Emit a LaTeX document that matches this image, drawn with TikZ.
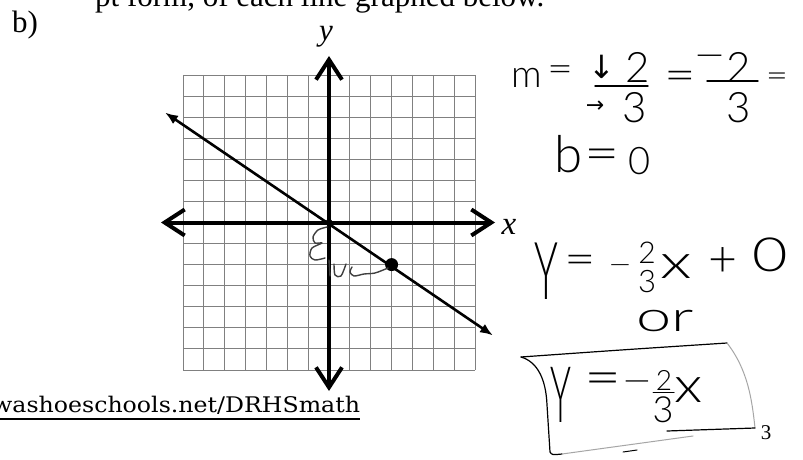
\documentclass[tikz,border=0pt]{standalone}
\usepackage{fontspec}
\setmainfont{Liberation Serif}
\IfFontExistsTF{Lato Light}{\newfontfamily\hwfont{Lato Light}}{\newfontfamily\hwfont{Liberation Sans}}
\newfontfamily\symfont{DejaVu Sans}
\newfontfamily\urlfont{DejaVu Serif}
\usetikzlibrary{arrows.meta}
\newcommand\fsz[1]{\fontsize{#1}{#1}\selectfont}
\newcommand\heq[1]{\fsz{#1}\scalebox{1.6}[1.3]{=}}
\newcommand\hmin[1]{\fsz{#1}\scalebox{1.5}[1]{−}}
\tikzset{
  gridline/.style={draw=black!50, line width=0.9pt},
  axisline/.style={line width=4pt, {Straight Barb[length=20pt,width=26pt]}-{Straight Barb[length=20pt,width=26pt]}},
  graphline/.style={line width=2.6pt, {Latex[length=13pt,width=10pt]}-{Latex[length=13pt,width=10pt]}},
  hw/.style={inner sep=0pt, font=\hwfont},
  hwstroke/.style={line width=1.4pt, line cap=round, line join=round},
  faint/.style={line width=1pt, draw=gray!70, line cap=round, line join=round},
  lbl/.style={inner sep=0pt}
}
\begin{document}
\begin{tikzpicture}[x=1pt,y=-1pt]
\useasboundingbox (0,0) rectangle (803,460);
\clip (0,0) rectangle (803,460);
\fill[white] (0,0) rectangle (803,460);

% cut-off heading and label
\node[lbl, anchor=base west] (head) at (95,7) {\fsz{31}pt form, of each line graphed below.};
\node[lbl, anchor=base west] (blab) at (12,33) {\fsz{31}b)};

% grid
\foreach \i in {0,...,14} {
  \draw[gridline] ({183+\i*20.857},75) -- ({183+\i*20.857},370);
  \draw[gridline] (183,{75+\i*21.07}) -- (475,{75+\i*21.07});
}

% axes
\coordinate (xl) at (161,222.5);
\coordinate (xr) at (495,222.5);
\coordinate (yt) at (329,56);
\coordinate (yb) at (329,391);
\draw[axisline] (xl) -- (xr);
\draw[axisline] (yt) -- (yb);
\node[lbl] (ylab) at (326,37) {\fsz{31}\itshape y};
\node[lbl] (xlab) at (509,227) {\fsz{33}\itshape x};

% graphed line
\coordinate (la) at (165,112.5);
\coordinate (lb) at (493,335.5);
\draw[graphline] (la) -- (lb);
\node[circle, fill, inner sep=0pt, minimum size=7pt] (O) at (329,222.5) {};
\node[circle, fill, inner sep=0pt, minimum size=13pt] (P) at (391.6,264.6) {};

% rise / run marks
\draw[hwstroke, draw=gray!50!black] plot[smooth] coordinates {(327,227) (318,230) (313,237) (315,243) (322,243) (312,248) (310,256) (315,260) (325,258)};
\draw[hwstroke, draw=gray!50!black] plot[smooth] coordinates {(329,260) (330,276)};
\draw[hwstroke, draw=gray!50!black] plot[smooth] coordinates {(334,264) (335,275) (341,276) (346,264)};
\draw[hwstroke, draw=gray!50!black] plot[smooth] coordinates {(352,267) (350,272) (354,276) (364,274) (375,273) (388,268)};

% slope work
\node[hw] (m) at (527,78) {\fsz{38}m};
\node[hw] (e1) at (560,74) {\heq{28}};
\node[hw] (dn) at (602,67) {\symfont\fsz{32}↓};
\node[hw] (n1) at (638,67) {\fsz{42}2};
\coordinate (f1a) at (595,86);
\coordinate (f1b) at (648,86);
\draw[hwstroke] (f1a) -- (f1b);
\node[hw] (rt) at (595,107) {\symfont\fsz{22}→};
\node[hw] (d1) at (635,108) {\fsz{42}3};
\node[hw] (e2) at (680,81) {\heq{34}};
\node[hw] (mi1) at (710,62) {\hmin{38}};
\node[hw] (n2) at (739,67) {\fsz{42}2};
\coordinate (f2a) at (707,81);
\coordinate (f2b) at (758,81);
\draw[hwstroke] (f2a) -- (f2b);
\node[hw] (d2) at (739,108) {\fsz{42}3};
\node[hw] (e3) at (777,80) {\heq{24}};

\node[hw] (b) at (569,154) {\fsz{51}b};
\node[hw] (e4) at (602,160) {\heq{38}};
\node[hw] (z1) at (640,161) {\fsz{38}0};

% equation
\node[hw] (Y1) at (546,271) {\fsz{80}\scalebox{0.5}[1]{Y}};
\node[hw] (e5) at (580,265) {\heq{34}};
\node[hw] (mi2) at (620,270) {\hmin{28}};
\node[hw] (n3) at (647,253) {\fsz{30}2};
\node[hw] (d3) at (647,282) {\fsz{31}3};
\node[hw] (x1) at (676,267) {\fsz{48}\scalebox{1.4}[1]{x}};
\node[hw] (pl) at (723,262) {\fsz{50}+};
\node[hw] (z2) at (770,255) {\fsz{47}\scalebox{1.3}[1]{0}};
\node[hw] (or) at (665,321) {\fsz{42}\scalebox{1.5}[1]{or}};

% boxed answer
\coordinate (bx1) at (521,357);
\coordinate (bx2) at (727,343);
\coordinate (bx3) at (755,428);
\coordinate (bx4) at (667,431);
\coordinate (bx5) at (550,452);
\coordinate (bx6) at (693,436);
\draw[hwstroke, line width=1.2pt] (bx1) .. controls (620,350) .. (bx2);
\draw[faint] (bx2) .. controls (748,370) and (752,400) .. (bx3);
\draw[hwstroke, line width=1.2pt] (bx3) -- (bx4);
\draw[hwstroke, line width=1.2pt] (bx1) .. controls (538,362) and (546,380) .. (547,405) -- (bx5) .. controls (552,455) .. (562,454);
\draw[faint] (562,454) -- (bx6);
\coordinate (dsa) at (623,452);
\coordinate (dsb) at (637,450);
\draw[hwstroke, line width=1pt] (dsa) -- (dsb);

\node[hw] (Y2) at (561,395) {\fsz{78}\scalebox{0.45}[1]{Y}};
\node[hw] (e6) at (603,384) {\heq{40}};
\node[hw] (mi3) at (637,387) {\hmin{36}};
\node[hw] (n4) at (664,380) {\fsz{28}2};
\coordinate (f3a) at (653,392);
\coordinate (f3b) at (674,392);
\draw[hwstroke, line width=1pt] (f3a) -- (f3b);
\node[hw] (d4) at (663,410) {\fsz{36}3};
\node[hw] (x2) at (689,390) {\fsz{50}\scalebox{1.2}[1]{x}};

% page number
\node[lbl] (pg) at (766,433) {\fsz{21}3};

% url
\node[lbl, anchor=base west] (url) at (-8,412) {\urlfont\fsz{21.5}\scalebox{1.1}[1]{washoeschools.net/DRHSmath}};
\coordinate (ula) at (-8,419);
\coordinate (ulb) at (url.base east);
\draw[line width=1.2pt] (ula) -- (ulb |- ula);
\end{tikzpicture}
\end{document}
